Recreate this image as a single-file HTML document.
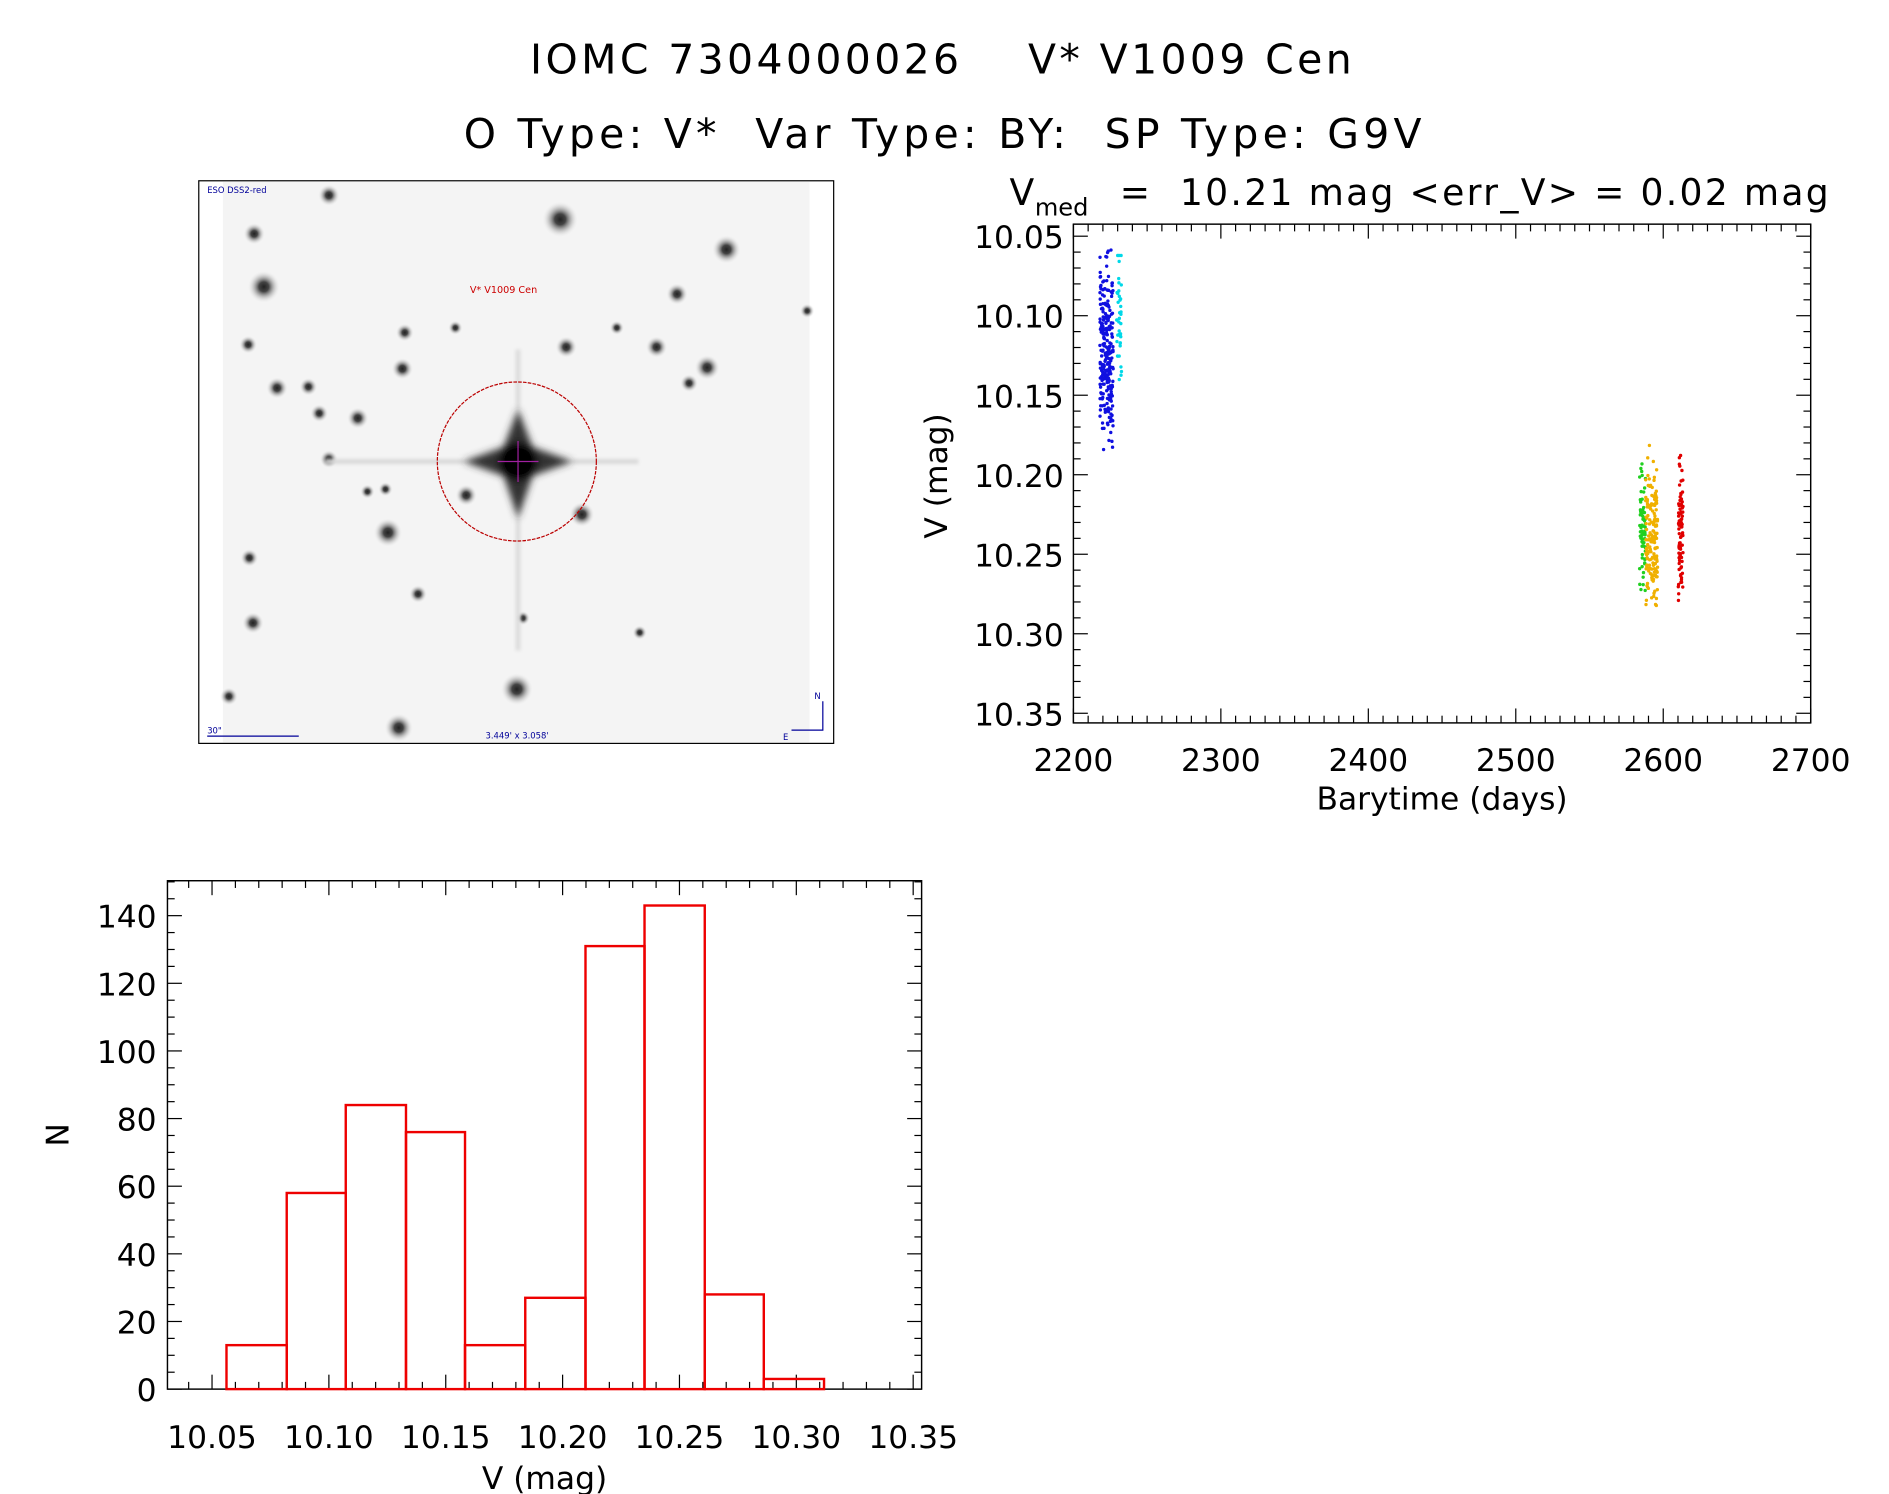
<!DOCTYPE html>
<html><head><meta charset="utf-8"><style>
html,body{margin:0;padding:0;background:#fff;}
svg{display:block;}
text{font-family:"DejaVu Sans","Liberation Sans",sans-serif;fill:#000;}
</style></head><body>
<svg id="s" width="1889" height="1494" viewBox="0 0 1568 1240" xmlns="http://www.w3.org/2000/svg">
<defs>
<radialGradient id="st"><stop offset="0" stop-color="#222"/><stop offset="0.3" stop-color="#444"/><stop offset="1" stop-color="#f4f4f4" stop-opacity="0"/></radialGradient>
<radialGradient id="big"><stop offset="0" stop-color="#000"/><stop offset="0.35" stop-color="#111"/><stop offset="1" stop-color="#f4f4f4" stop-opacity="0"/></radialGradient>
<filter id="bl"><feGaussianBlur stdDeviation="3"/></filter>
<filter id="bl2"><feGaussianBlur stdDeviation="1.5"/></filter>
</defs>
<text x="440" y="61" font-size="34" textLength="682" lengthAdjust="spacing" xml:space="preserve">IOMC 7304000026    V* V1009 Cen</text>
<text x="385" y="123" font-size="34" textLength="795" lengthAdjust="spacing" xml:space="preserve">O Type: V*  Var Type: BY:  SP Type: G9V</text>

<!-- image panel -->
<rect x="165" y="150" width="527" height="467" fill="#fff" stroke="#000" stroke-width="1"/>
<rect x="185" y="151" width="487" height="465" fill="#f4f4f4"/>
<g id="stars"></g>
<g filter="url(#bl2)">
<line x1="270" y1="383" x2="530" y2="383" stroke="#d8d8d8" stroke-width="4"/>
<line x1="430" y1="290" x2="430" y2="540" stroke="#dcdcdc" stroke-width="4"/>
</g>
<g filter="url(#bl)">
<path d="M430 340 L442 371 L475 383 L442 395 L430 430 L418 395 L385 383 L418 371 Z" fill="#333"/>
<circle cx="430" cy="383" r="16" fill="#000"/>
</g>
<line x1="413" y1="383" x2="447" y2="383" stroke="#a020a0" stroke-width="1"/>
<line x1="430" y1="366" x2="430" y2="400" stroke="#a020a0" stroke-width="1"/>
<circle cx="429" cy="383" r="66" fill="none" stroke="#b00" stroke-width="1" stroke-dasharray="3,1"/>
<text x="390" y="243" font-size="8" style="fill:#c00">V* V1009 Cen</text>
<text x="172" y="160" font-size="7" style="fill:#009">ESO DSS2-red</text>
<text x="172" y="609" font-size="7" style="fill:#009">30"</text>
<line x1="172" y1="611" x2="248" y2="611" stroke="#009"/>
<text x="403" y="613" font-size="7" style="fill:#009">3.449' x 3.058'</text>
<polyline points="683,582 683,606 657,606" fill="none" stroke="#009"/>
<text x="676" y="580" font-size="7" style="fill:#009">N</text>
<text x="650" y="614" font-size="7" style="fill:#009">E</text>

<!-- light curve -->
<text x="838" y="170" font-size="30">V</text>
<text x="859" y="179" font-size="20">med</text>
<text x="918" y="170" font-size="30" textLength="600" lengthAdjust="spacing" xml:space="preserve"> =  10.21 mag &lt;err_V&gt; = 0.02 mag</text>
<rect x="891" y="186" width="612" height="414" fill="none" stroke="#000" stroke-width="1.2"/>
<g id="lc" stroke="#000" stroke-width="1"></g>
<g id="pts"></g>
<text x="786" y="395" font-size="26" text-anchor="middle" transform="rotate(-90 786 395)">V (mag)</text>
<text x="1197" y="672" font-size="26" text-anchor="middle">Barytime (days)</text>

<!-- histogram -->
<rect x="139" y="731" width="626" height="422" fill="none" stroke="#000" stroke-width="1.2"/>
<g id="hc" stroke="#000" stroke-width="1"></g>
<g id="bars" fill="none" stroke="#e00" stroke-width="2"></g>
<text x="57" y="942" font-size="26" text-anchor="middle" transform="rotate(-90 57 942)">N</text>
<text x="452" y="1236" font-size="26" text-anchor="middle">V (mag)</text>
</svg>
<script>
var NS="http://www.w3.org/2000/svg";
function el(p,t,a,txt){var e=document.createElementNS(NS,t);for(var k in a)e.setAttribute(k,a[k]);if(txt!==undefined)e.textContent=txt;document.getElementById(p).appendChild(e);return e;}
var S=[[273,162,6],[465,182,10],[211,194,6],[603,207,8],[219,238,9],[562,244,6],[336,276,5],[206,286,5],[470,288,6],[545,288,6],[334,306,6],[587,305,7],[230,322,6],[256,321,5],[572,318,5],[265,343,5],[297,347,6],[273,381,5],[387,411,6],[483,427,7],[322,442,8],[207,463,5],[347,493,5],[210,517,6],[434,513,4],[531,525,4],[190,578,5],[429,572,9],[331,604,8],[670,258,4],[320,406,4],[305,408,4],[378,272,4],[512,272,4]];
S.forEach(function(s){el("stars","circle",{cx:s[0],cy:s[1],r:s[2]*1.5,fill:"url(#st)"});});
var x0=891,xs=612/500,yv=function(v){return 196+(v-10.05)/0.05*66;};
for(var d=2200;d<=2700;d+=10){var x=x0+(d-2200)*xs,L=(d%100==0)?12:6;el("lc","line",{x1:x,y1:600,x2:x,y2:600-L});el("lc","line",{x1:x,y1:186,x2:x,y2:186+L});if(d%100==0)el("pts","text",{x:x,y:640,"font-size":26,"text-anchor":"middle"},d);}
for(var i=-1;i<=31;i++){var v=10.05+i*0.01;var y=yv(v);if(y<186||y>600)continue;var maj=(i%5+5)%5==0;var L=maj?12:6;el("lc","line",{x1:891,y1:y,x2:891+L,y2:y});el("lc","line",{x1:1503,y1:y,x2:1503-L,y2:y});if(maj)el("pts","text",{x:883,y:y+10,"font-size":26,"text-anchor":"end"},v.toFixed(2));}
var seed=7;function r(){seed=(seed*16807)%2147483647;return seed/2147483647;}
function g(){return (r()+r()+r()-1.5)/0.5;}
function cl(n,xa,xb,yc,ysd,ymin,ymax,col){for(var i=0;i<n;i++){var y=yc+g()*ysd;y=Math.max(ymin,Math.min(ymax,y));el("pts","circle",{cx:xa+r()*(xb-xa),cy:y,r:1.4,fill:col});}}
cl(260,913,924,292,32,205,387,"#1010e0");
cl(40,927,931,262,28,212,315,"#00d8e8");
cl(70,1361,1366,440,25,385,490,"#20d020");
cl(160,1366,1376,445,30,367,530,"#f0b000");
cl(90,1393,1397,440,28,378,505,"#e00000");
var hx=function(v){return 176+(v-10.05)/0.05*97;},hy=function(n){return 1153-n*393/140;};
for(var i=-1;i<=31;i++){var v=10.05+i*0.01,x=hx(v);if(x<139||x>765)continue;var maj=((i%5)+5)%5==0,L=maj?12:6;el("hc","line",{x1:x,y1:1153,x2:x,y2:1153-L});el("hc","line",{x1:x,y1:731,x2:x,y2:731+L});if(maj)el("bars","text",{x:x,y:1202,"font-size":26,"text-anchor":"middle",stroke:"none"},v.toFixed(2));}
for(var n=0;n<=150;n+=5){var y=hy(n);if(y<731)continue;var maj=n%20==0,L=maj?12:6;el("hc","line",{x1:139,y1:y,x2:139+L,y2:y});el("hc","line",{x1:765,y1:y,x2:765-L,y2:y});if(maj)el("bars","text",{x:130,y:y+10,"font-size":26,"text-anchor":"end",stroke:"none"},n);}
var E=[188,238,287,337,386,436,486,535,585,634,684],H=[13,58,84,76,13,27,131,143,28,3];
for(var i=0;i<10;i++){el("bars","rect",{x:E[i],y:hy(H[i]),width:E[i+1]-E[i],height:1153-hy(H[i])});}
</script>
</body></html>
